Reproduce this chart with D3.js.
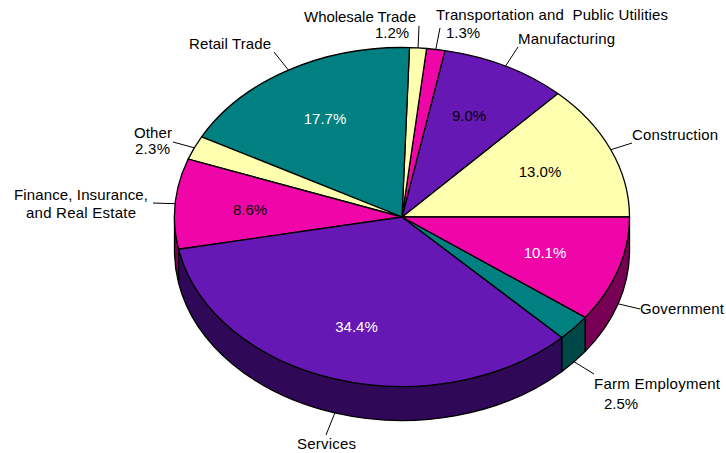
<!DOCTYPE html>
<html><head><meta charset="utf-8">
<script src="https://cdn.jsdelivr.net/npm/d3@7"></script>
<style>html,body{margin:0;padding:0;background:#fff}svg{display:block}text{font-family:"Liberation Sans",Arial,sans-serif;font-size:15px}</style>
</head><body><svg id="c" width="726" height="453"></svg>
<script>
const categories = ["Construction","Manufacturing","Transportation and Public Utilities","Wholesale Trade","Retail Trade","Other","Finance, Insurance, and Real Estate","Services","Farm Employment","Government"];
const shares = [13.0,9.0,1.3,1.2,17.7,2.3,8.6,34.4,2.5,10.1];
const topColors = ["#FFFFB0","#6618B4","#F006A8","#FFFFB0","#008080","#FFFFB0","#F006A8","#6618B4","#008080","#F006A8"];
const sideColors = ["#80805A","#300858","#780054","#80805A","#004848","#80805A","#780054","#300858","#004848","#780054"];
const valueTextColors = ["#000","#000",null,null,"#fff",null,"#000","#fff",null,"#fff"];
const valuePos = [[540,172],[469,116],null,null,[325,119],null,[250,210],[356.5,327],null,[545,253]];
// label text lines: [text, left x, baseline y, width]
const nameLines = [
 [["Construction",632,140,86]],
 [["Manufacturing",518,44,97]],
 [["Transportation and  Public Utilities",436,20,232],["1.3%",446,38,34]],
 [["Wholesale Trade",304,22,112],["1.2%",375,38,34]],
 [["Retail Trade",189,49,82]],
 [["Other",134,138,38],["2.3%",135,154,35]],
 [["Finance, Insurance,",14,200,134],["and Real Estate",26,218,110]],
 [["Services",297,449,59]],
 [["Farm Employment",594,389,126],["2.5%",604,409,34]],
 [["Government",640,314,84]]
];
const leaderEnds = [[632,143],[518,47],[440,28],[419,26],[274,52],[173,142],[153,203],[326,435],[594,374],[640,309]];

const cx=402, cy=217, rx=227.5, ry=169.5, depth=34;
const svg=d3.select("#c");
const pie=d3.pie().sort(null).startAngle(Math.PI/2).endAngle(Math.PI/2-2*Math.PI);
const arcs=pie(shares);
const arc=d3.arc().innerRadius(0).outerRadius(rx);
const pt=(a,dy=0)=>[cx+rx*Math.sin(a), cy-ry*Math.cos(a)+dy];
const frontB=-3*Math.PI/2;
const walls=svg.append("g");
arcs.forEach((d,i)=>{
  const a0=Math.min(d.startAngle,-Math.PI/2), a1=Math.max(d.endAngle,frontB);
  if(a0<=a1) return;
  const [x0,y0]=pt(a0),[x1,y1]=pt(a1),[x2,y2]=pt(a1,depth),[x3,y3]=pt(a0,depth);
  walls.append("path")
   .attr("d",`M${x0},${y0}A${rx},${ry} 0 0 0 ${x1},${y1}L${x2},${y2}A${rx},${ry} 0 0 1 ${x3},${y3}Z`)
   .attr("fill",sideColors[i]).attr("stroke","#000").attr("stroke-width",1.3).attr("stroke-linejoin","round");
});
svg.append("g").attr("transform",`translate(${cx},${cy}) scale(1,${ry/rx})`)
 .selectAll("path").data(arcs).join("path")
 .attr("d",arc).attr("fill",(d,i)=>topColors[i])
 .attr("stroke","#000").attr("stroke-width",1.3).attr("vector-effect","non-scaling-stroke").attr("stroke-linejoin","round");
// leaders
arcs.forEach((d,i)=>{
  const m=(d.startAngle+d.endAngle)/2;
  const p=pt(m,Math.cos(m)<0?depth:0);
  svg.append("line").attr("x1",p[0]).attr("y1",p[1]).attr("x2",leaderEnds[i][0]).attr("y2",leaderEnds[i][1])
   .attr("stroke","#000").attr("stroke-width",1);
});
// value labels
shares.forEach((v,i)=>{
  if(!valuePos[i]) return;
  svg.append("text").attr("x",valuePos[i][0]).attr("y",valuePos[i][1]+5).attr("text-anchor","middle")
   .attr("fill",valueTextColors[i]).text(d3.format(".1f")(v)+"%");
});
// category labels
nameLines.forEach(ls=>ls.forEach(l=>{
  svg.append("text").attr("x",l[1]).attr("y",l[2]).attr("fill","#000")
   .attr("textLength",l[3]).attr("lengthAdjust","spacing").style("white-space","pre").text(l[0]);
}));
</script></body></html>
